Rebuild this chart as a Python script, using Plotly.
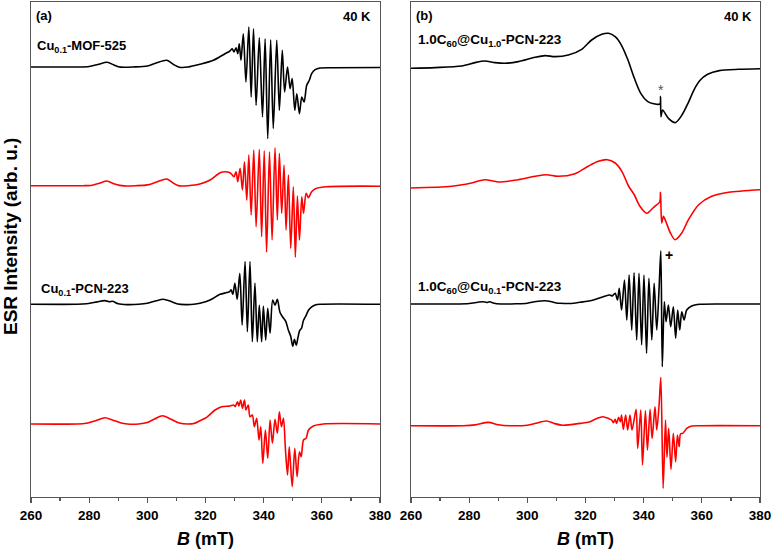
import plotly.graph_objects as go

# ---------------- data (B in mT, intensity in arbitrary units) ----------------
B_A1 = [260, 270, 276, 280, 283, 286.2, 288.5, 290, 292, 295, 300, 303, 306.7, 309, 311, 314,
        318.1, 322.7, 326.7, 328.4, 329.2, 329.8, 330.5, 331.1,
        331.6, 332.2, 333.0, 333.9, 334.9, 335.7, 336.5, 337.4, 338.5, 339.6, 340.5, 341.4,
        342.4, 343.3, 344.5, 345.4, 346.4, 347.2, 348.2, 349.1, 349.8, 350.7, 351.4, 352.3,
        353.1, 353.9, 354.8, 355.7, 356.5, 357.7, 359.4, 364, 380]
I_A1 = [0, 0, 0, 0.5, 2.5, 4.7, 2, 0.3, -0.3, 0, 1, 4, 6.7, 2.5, -0.2, 0,
        2.7, 6.7, 13.3, 16, 18.3, 15, 19.3, 13.3,
        23.3, 6.7, 33.3, -15, 40, -30, 38.3, -38.3, 29.3, -50, 28.3, -71.6,
        27.3, -61.6, 26.7, -43.3, 16.7, -25, 0, -21.6, -11.6, -43.3, -26.7, -46.7,
        -30, -35, -18.3, -13.3, -6.7, -2.7, -1, -0.7, -0.5]

B_A2 = [260, 278, 281, 283.5, 286.1, 288.5, 290.5, 292, 296, 300, 303, 306.7, 309, 311, 314,
        318.1, 321.6, 325.0, 326.7, 328.4, 329.2, 329.8,
        330.5, 331.1, 331.9, 332.7, 333.4, 334.2, 334.9, 335.7, 336.6, 337.4, 338.5, 339.3,
        340.2, 341.0, 342.0, 342.9, 343.9, 344.7, 345.4, 346.2, 347.0, 347.7, 348.5, 349.3,
        350.2, 350.9, 351.6, 352.3, 353.1, 353.7, 354.6, 355.4, 356.5, 358.2, 361.7, 380]
I_A2 = [0, 0, 0.5, 2.5, 4.7, 2, 0.3, -0.2, 0, 0.8, 3.5, 6.7, 2.5, -0.2, 0,
        1.7, 5.7, 13, 14, 13, 10.7, 9,
        14, 4, 17.3, -4.3, 24, -14.3, 30.7, -29.3, 35.7, -41, 36.3, -51,
        35, -66.6, 34, -54.3, 38, -34.3, 32.3, -27.6, 20.7, -44.3, 10.7, -62.6,
        -1, -71.6, -10.3, -54.3, -11, -27.6, -7.7, -12, -6, -2.6, -1, -0.5]

B_A3 = [260, 276, 279, 282, 285.4, 287, 288, 290, 293, 297, 300, 303, 305.5, 308, 310.5, 313, 316,
        318.1, 321.6, 325, 327.3, 328.3, 328.8, 329.4,
        330.1, 330.9, 331.8, 332.6, 333.6, 334.4, 335.3, 336.1, 337.0, 337.8, 338.5, 339.3,
        339.9, 340.7, 341.4, 342.2, 343.1, 343.9, 344.7, 345.6, 346.6, 347.6, 348.5, 349.3,
        350.0, 350.6, 351.2, 351.8, 352.4, 353.0, 353.7, 354.6, 355.4, 356.3, 357.7, 359.4, 380]
I_A3 = [0, 0, 0.5, 2, 3.7, 2.5, 3, 0.5, -0.3, 0, 1, 3.5, 5, 3, 0.3, -0.3, 0,
        1, 4.3, 10, 11.7, 12.7, 14.5, 10,
        21, 5, 31, -20.7, 42.7, -27.4, 42.7, -37.4, 21, -37.4, -1, -37.4,
        -2, -35.7, -4, -29, 4.3, -1, 5, -8, -13, -17, -26, -32,
        -42, -35, -41, -33, -26, -24, -16, -11, -6, -3, -0.7, 0, 0]

B_A4 = [260, 276, 279, 282, 285.4, 288, 291, 294, 297, 300, 302.5, 305.2, 308, 311, 314, 316,
        318.1, 320.4, 323.3, 325.6, 328.4, 329.6, 330.2, 331.0, 331.5, 332.1, 332.7, 333.4,
        333.9, 334.7, 335.3, 336.1, 336.8, 337.6, 338.4, 339.0, 339.7, 340.6, 341.4, 342.2,
        343.0, 343.9, 344.7, 345.4, 346.1, 346.8, 347.5, 348.2, 348.8, 349.8, 350.7, 351.5,
        352.3, 352.9, 353.7, 354.6, 355.4, 357.1, 360.5, 380]
I_A4 = [0, 0, 0.7, 3, 6.3, 4, 1, -0.2, 0, 1.5, 5, 8.3, 5, 1, 0, 0.5,
        3.3, 6.7, 14, 17.3, 18, 19, 17.5, 22.3, 18, 24, 15.7, 24,
        14, 19, 7.3, 9, -2.7, 5.7, -16, -2.7, -39.3, -6, -34.3, 4,
        -19.3, 4.7, -9.3, 12.3, -2.7, 5.7, -26, -51, -22.7, -62.7, -24.3, -52.7,
        -27.7, -32.7, -16, -14.3, -6, -2, 0, 0]

B_B1 = [260, 268.3, 277.4, 282, 285.4, 288.9, 292.3, 296.9, 302.6, 306.1, 309.5, 314.1, 318.7,
        322.1, 325.6, 327.9, 330.2, 332.2, 334.5, 336.8, 339.0, 341.3, 343.5, 345.6, 345.8,
        345.95, 346.5, 348.5, 350.9, 353.1, 355.4, 357.4, 359.4, 362, 366, 372.6, 380]
I_B1 = [0, 0.7, 2.3, 5.7, 7.3, 5.7, 5, 6.7, 11, 12.7, 11.7, 13.3, 19,
        28.3, 34, 35, 31.7, 24, 9, -10, -25, -33, -35.5, -35.7, -28.3,
        -48.3, -41.7, -50, -54.3, -47, -34, -21, -12, -6, -2.3, -1, -0.5]

B_B2 = [260, 274, 280.8, 285.4, 290, 296.9, 302.6, 306.6, 310.6, 316.4, 320.9, 324.4, 327.5,
        330.2, 332.5, 334.8, 336.8, 338.7, 341.1, 342.5, 343.8, 345.5, 345.8, 346.2, 346.8,
        347.6, 349.2, 350.8, 353.1, 355.4, 358.9, 363.4, 369.2, 380]
I_B2 = [0, 1.7, 5, 8.3, 6, 8.3, 11.7, 13.3, 11.7, 14.3, 21.7, 26.7, 28.3,
        25, 16.7, 2, -7, -18.3, -25.3, -22, -18.3, -14, -4.3, -35, -28.3,
        -33.3, -45, -51.7, -45, -31.7, -16.7, -8.3, -4.3, -1.7]

B_B3 = [260, 275, 280, 283, 284.9, 286, 287, 289, 292, 296, 300, 303, 306.1, 308, 310, 311.2, 315,
        318.1, 322.7, 326.1, 328.4, 329.2, 330.2, 331.0, 331.6, 332.4, 333.4, 334.2, 335.0,
        335.9, 336.7, 337.6, 338.4, 339.3, 340.1, 341.0, 341.8, 342.8, 343.6, 344.5, 345.3,
        345.9, 346.4, 347.1, 347.7, 348.5, 349.3, 350.2, 351.0, 351.7, 352.4, 353.1, 353.9,
        354.8, 356.5, 359.4, 369.7, 380]
I_B3 = [0, 0, 0.5, 1.8, 2.3, 1.5, 2.2, 0.5, 0, 0.2, 0.8, 2.5, 3.3, 2.5, 1, 0.7, 0.5,
        1.7, 4, 7.3, 9, 8, 10.7, 4, 15.7, -6, 24, -16, 29,
        -26, 31.3, -36, 30.7, -41, 29, -49.3, 25.7, -36, 20.7, -26, 15.7,
        53.3, -62.7, 2.3, -17.7, -1, -22.7, -2.7, -34.3, -6, -26, -7.7, -16,
        -6, -2, -0.3, 0, 0]

B_B4 = [260, 278, 282, 286.6, 290, 294, 300, 303, 306.6, 309, 312, 318.1, 321.6, 323.9, 325.9,
        327.9, 329.0, 329.6, 330.2, 330.7, 331.4, 332.0, 332.4, 333.0, 333.8, 334.5, 335.3,
        336.0, 337.4, 337.95, 339.0, 339.6, 340.6, 341.3, 342.2, 342.9, 343.9, 344.5, 345.3,
        345.9, 346.7, 347.5, 348.0, 348.6, 349.4, 350.2, 351.0, 351.6, 352.2, 352.7, 353.4,
        354.2, 354.8, 356.5, 359.4, 380]
I_B4 = [0, 0, 0.8, 3.3, 1, 0, 0.5, 2.5, 4.7, 2.5, 0.5, 2.3, 4, 7.3, 9,
        7.3, 5.7, 3, 6.3, 2.3, 8.3, 4, 10.7, -3.7, 10.7, -4.3, 10.7,
        -4.3, 16.3, -22.7, 15.7, -39.3, 15, -24.3, 16.3, -12.7, 19, -4.3, 20.7,
        48.4, -62.7, 5.7, -31.7, -2.7, -43.7, -7.7, -36, -9.3, -21, -8, -7.7,
        -5, -2.7, -0.3, 0, 0]

# vertical stacking offsets of the spectra
OFFSETS_A = [430, 311.3, 192.7, 73]
OFFSETS_B = [428.7, 309, 193, 71.3]
COLORS = ["#000000", "#ff0000", "#000000", "#ff0000"]

X_TICKS = [260, 280, 300, 320, 340, 360, 380]

FONT = "Arial, 'Liberation Sans', sans-serif"
W, H = 774, 554


def px(x):
    return x / W


def py(y):
    return 1 - y / H


fig = go.Figure()

panels = [
    ("x", "y", [(B_A1, I_A1), (B_A2, I_A2), (B_A3, I_A3), (B_A4, I_A4)], OFFSETS_A),
    ("x2", "y2", [(B_B1, I_B1), (B_B2, I_B2), (B_B3, I_B3), (B_B4, I_B4)], OFFSETS_B),
]
for xa, ya, series, offs in panels:
    for (b, inten), off, col in zip(series, offs, COLORS):
        fig.add_trace(go.Scatter(
            x=b, y=[v + off for v in inten], mode="lines", xaxis=xa, yaxis=ya,
            line=dict(color=col, width=1.6, shape="spline", smoothing=0.8),
            showlegend=False, hoverinfo="skip"))

FRAME = "#555555"
xax = dict(range=[260, 380], tickvals=X_TICKS, ticks="outside", ticklen=5, tickwidth=1.3,
           tickcolor=FRAME, showline=True, linecolor=FRAME, linewidth=1.3, mirror=True,
           showgrid=False, zeroline=False,
           minor=dict(dtick=10, ticks="outside", ticklen=3, tickwidth=1.2, tickcolor=FRAME),
           tickfont=dict(family=FONT, size=13.5, color="#000000", weight="bold"),
           automargin=False)
yax = dict(range=[0, 495], showticklabels=False, ticks="", showline=True, linecolor=FRAME,
           linewidth=1.3, mirror=True, showgrid=False, zeroline=False, automargin=False)

ydom = [py(497), py(2)]
fig.update_layout(
    width=W, height=H, margin=dict(l=0, r=0, t=0, b=0),
    paper_bgcolor="white", plot_bgcolor="white",
    xaxis=dict(xax, domain=[px(31), px(380)]),
    xaxis2=dict(xax, domain=[px(411), px(760)]),
    yaxis=dict(yax, domain=ydom),
    yaxis2=dict(yax, domain=ydom, anchor="x2"),
)
fig.update_layout(yaxis2=dict(anchor="x2"), xaxis2=dict(anchor="y2"))


def ann(text, x, y, size, xanchor="left", color="#000000", angle=0):
    fig.add_annotation(text=text, x=px(x), y=py(y), xref="paper", yref="paper",
                       xanchor=xanchor, yanchor="middle", showarrow=False, textangle=angle,
                       font=dict(family=FONT, size=size, color=color))


ann("<b>(a)</b>", 34, 16, 13)
ann("<b>40 K</b>", 373, 17, 13, xanchor="right")
ann("<b>(b)</b>", 414, 16, 13)
ann("<b>40 K</b>", 754, 17, 13, xanchor="right")
ann("<b>Cu<sub>0.1</sub>-MOF-525</b>", 35, 47, 13)
ann("<b>Cu<sub>0.1</sub>-PCN-223</b>", 39, 289, 13)
ann("<b>1.0C<sub>60</sub>@Cu<sub>1.0</sub>-PCN-223</b>", 416, 41, 13.5)
ann("<b>1.0C<sub>60</sub>@Cu<sub>0.1</sub>-PCN-223</b>", 416, 287, 13.5)
ann("*", 661, 90, 14, xanchor="center", color="#555555")
ann("<b>+</b>", 669, 255, 14, xanchor="center")
ann("<b><i>B</i> (mT)</b>", 205, 539, 18, xanchor="center")
ann("<b><i>B</i> (mT)</b>", 585, 539, 18, xanchor="center")
ann("<b>ESR Intensity (arb. u.)</b>", 11, 237, 19, xanchor="center", angle=-90)

fig.write_html("out.html", config={"displayModeBar": False, "staticPlot": True},
               post_script="document.body.style.margin='0px';document.body.style.overflow='hidden';")
